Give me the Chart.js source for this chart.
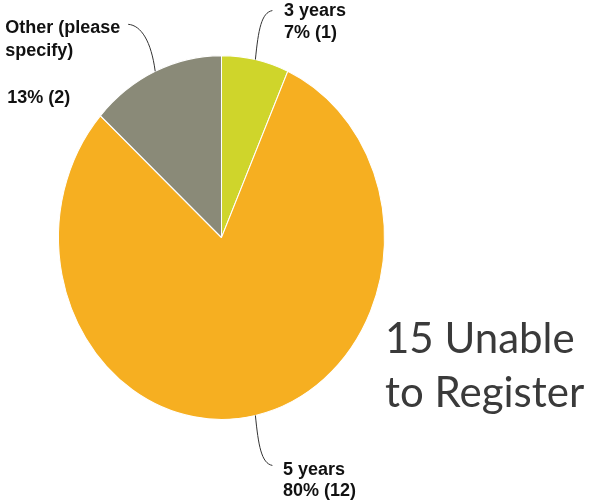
<!DOCTYPE html>
<html>
<head>
<meta charset="utf-8">
<script src="https://cdn.jsdelivr.net/npm/chart.js@4/dist/chart.umd.min.js"></script>
<style>
  html, body { margin: 0; padding: 0; background: #ffffff; }
  #wrap { position: relative; width: 592px; height: 500px; }
</style>
</head>
<body>
<div id="wrap"><canvas id="c" width="592" height="500"></canvas></div>
<script>
// ---- data ----
const categories = ["3 years", "5 years", "Other (please specify)"];
const counts = [1, 12, 2];
const percentLabels = ["7% (1)", "80% (12)", "13% (2)"];
const nameLines = [["3 years"], ["5 years"], ["Other (please", "specify)"]];
const sideNote = ["15 Unable", "to Register"];

// ---- styles ----
const colors = ["#CFD52B", "#F6AF21", "#8A8A78"];
const SY = 1.116; // vertical stretch of the pie (ellipse)

// label placement relative to slice anchor (arc midpoint on rim)
const labelLayout = [
  { line: [[3, -30], [6, -47], [17, -49]], x: 28.5, ys: [-44, -22] },
  { line: [[3, 30], [6, 48], [17, 50]], x: 27.5, ys: [60, 81] },
  { line: [[-4, -30], [-14, -46], [-27, -47]], x: -150, ys: [-38, -15, 32] }
];

const ellipsePlugin = {
  id: 'ellipse',
  beforeDatasetsDraw(chart) {
    const arc = chart.getDatasetMeta(0).data[0];
    const ctx = chart.ctx;
    ctx.save();
    ctx.translate(arc.x, arc.y);
    ctx.scale(1, SY);
    ctx.translate(-arc.x, -arc.y);
  },
  afterDatasetsDraw(chart) {
    chart.ctx.restore();
  },
  afterDraw(chart) {
    const ctx = chart.ctx;
    const meta = chart.getDatasetMeta(0);
    ctx.save();
    meta.data.forEach((arc, i) => {
      const mid = (arc.startAngle + arc.endAngle) / 2;
      const ax = arc.x + arc.outerRadius * Math.cos(mid);
      const ay = arc.y + SY * arc.outerRadius * Math.sin(mid);
      const L = labelLayout[i];
      ctx.strokeStyle = "#333333";
      ctx.lineWidth = 1;
      ctx.beginPath();
      ctx.moveTo(ax, ay);
      ctx.bezierCurveTo(ax + L.line[0][0], ay + L.line[0][1], ax + L.line[1][0], ay + L.line[1][1], ax + L.line[2][0], ay + L.line[2][1]);
      ctx.stroke();
      ctx.fillStyle = "#111111";
      ctx.font = "bold 18px 'Liberation Sans', Arial, sans-serif";
      ctx.textBaseline = "alphabetic";
      ctx.textAlign = "left";
      const lines = nameLines[i].concat([percentLabels[i]]);
      lines.forEach((s, k) => {
        ctx.fillText(s, ax + L.x + (i === 2 && k === lines.length - 1 ? 2 : 0), ay + L.ys[k]);
      });
    });
    // side note
    ctx.fillStyle = "#3a3a3a";
    ctx.font = "42px Lato, 'Open Sans', sans-serif";
    ctx.fillText(sideNote[0], 385, 353);
    ctx.fillText(sideNote[1], 385, 407);
    ctx.restore();
  }
};

new Chart(document.getElementById('c'), {
  type: 'pie',
  data: {
    labels: categories,
    datasets: [{
      data: counts,
      backgroundColor: colors,
      borderColor: "#ffffff",
      borderWidth: 1
    }]
  },
  options: {
    responsive: false,
    animation: false,
    layout: { padding: { left: 58, right: 207, top: 74, bottom: 99 } },
    plugins: { legend: { display: false }, tooltip: { enabled: false } }
  },
  plugins: [ellipsePlugin]
});
</script>
</body>
</html>
